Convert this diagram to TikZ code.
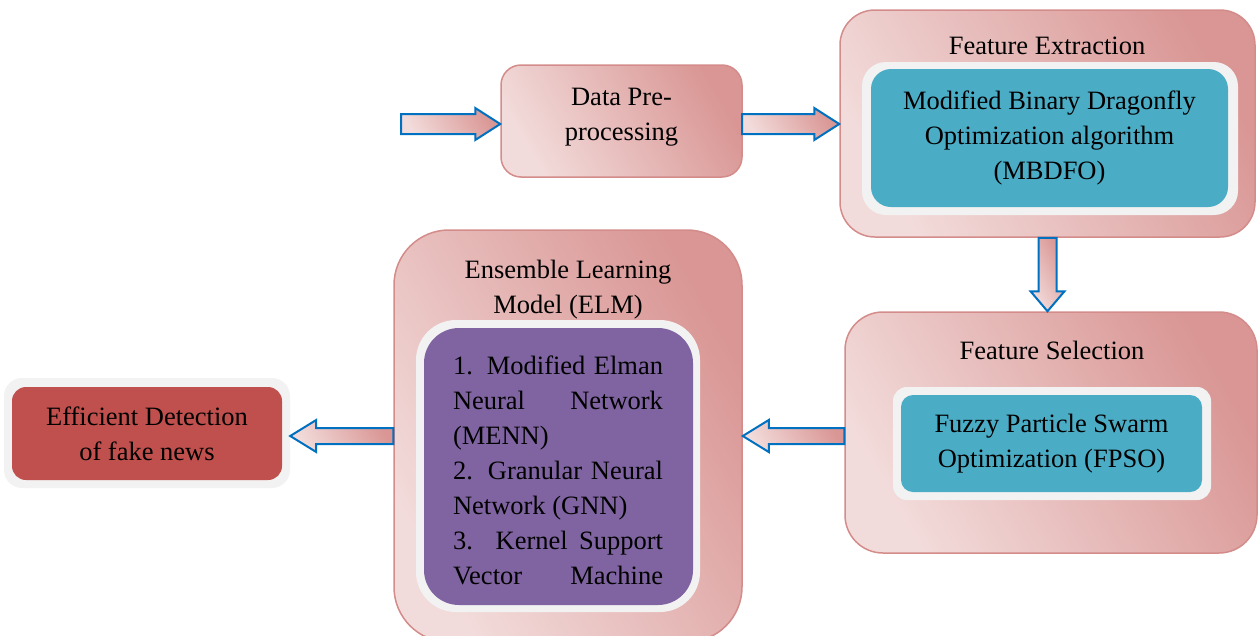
\documentclass[tikz,border=0pt]{standalone}
\usepackage{fontspec}
\setmainfont{Liberation Serif}
\usetikzlibrary{calc}
\definecolor{pinkL}{HTML}{F2DCDB}
\definecolor{pinkD}{HTML}{D99694}
\definecolor{pinkB}{HTML}{D38C8A}
\definecolor{tealC}{HTML}{4BACC6}
\definecolor{purpC}{HTML}{8064A2}
\definecolor{redC}{HTML}{C0504D}
\definecolor{frameC}{HTML}{F2F2F2}
\definecolor{arrB}{HTML}{0070C0}
\tikzset{
  txt/.style={font=\fontsize{26.5}{35}\selectfont, text=black, inner sep=0pt},
  pinkbox/.style={draw=pinkB, line width=1.5pt, left color=pinkL, right color=pinkD, shading angle=120, inner sep=0pt},
  framebox/.style={fill=frameC, inner sep=0pt},
  tealbox/.style={fill=tealC, inner sep=0pt},
  arrowbody/.style={draw=arrB, line width=2pt, line join=miter, left color=pinkL, right color=pinkD, shading angle=120},
}
\newcommand\fatarrow[5]{%
  \coordinate (fa-hb) at ($(#2)!#5!(#1)$);
  \path[arrowbody] ($(#1)!#3!90:(#2)$) -- ($(fa-hb)!#3!-90:(#1)$) -- ($(fa-hb)!#4!-90:(#1)$) -- (#2)
    -- ($(fa-hb)!#4!90:(#1)$) -- ($(fa-hb)!#3!90:(#1)$) -- ($(#1)!#3!-90:(#2)$) -- cycle;
}
\begin{document}
\begin{tikzpicture}[x=1pt,y=-1pt]
\useasboundingbox (0,0) rectangle (1258,635);
% Data pre-processing
\node[pinkbox, rounded corners=20pt, minimum width=241pt, minimum height=112pt] (data) at (621.5,121) {};
\node[txt, align=center] (datat) at (621.5,117) {Data Pre-\\processing};
% Feature extraction
\node[pinkbox, rounded corners=35pt, minimum width=415pt, minimum height=227pt] (fe) at (1047.5,123.5) {};
\node[txt] (fet) at (1047,46) {Feature Extraction};
\node[framebox, rounded corners=24pt, minimum width=376pt, minimum height=153pt] (few) at (1050,138.5) {};
\node[tealbox, rounded corners=20pt, minimum width=357pt, minimum height=138pt, txt, align=center] (fei) at (1049.5,138) {Modified Binary Dragonfly\\Optimization algorithm\\(MBDFO)};
% Feature selection
\node[pinkbox, rounded corners=38pt, minimum width=412pt, minimum height=241pt] (fs) at (1051,432.5) {};
\node[txt] (fst) at (1052,350) {Feature Selection};
\node[framebox, rounded corners=14pt, minimum width=318pt, minimum height=113pt] (fsw) at (1052,443.5) {};
\node[tealbox, rounded corners=12pt, minimum width=301pt, minimum height=97pt, txt, align=center] (fsi) at (1051.5,443.5) {Fuzzy Particle Swarm\\Optimization (FPSO)};
% Ensemble learning model
\node[pinkbox, rounded corners=55pt, minimum width=348pt, minimum height=412pt] (elm) at (568,436) {};
\node[txt, align=center] (elmt) at (568,290) {Ensemble Learning\\Model (ELM)};
\node[framebox, rounded corners=40pt, minimum width=284pt, minimum height=292pt] (elmw) at (558,466) {};
\node[fill=purpC, rounded corners=35pt, minimum width=269pt, minimum height=277pt, inner sep=0pt] (elmi) at (558.5,466.5) {};
\node[txt, align=left] (elmtx) at (558,470) {%
\makebox[210pt][s]{1. Modified Elman}\\
\makebox[210pt][s]{Neural Network}\\
\makebox[210pt][l]{(MENN)}\\
\makebox[210pt][s]{2. Granular Neural}\\
\makebox[210pt][l]{Network (GNN)}\\
\makebox[210pt][s]{3. Kernel Support}\\
\makebox[210pt][s]{Vector Machine}};
% Efficient detection
\node[framebox, rounded corners=18pt, minimum width=286pt, minimum height=110pt] (effw) at (147,433) {};
\node[fill=redC, rounded corners=14pt, minimum width=270pt, minimum height=93pt, inner sep=0pt, txt, align=center] (eff) at (147,433.5) {Efficient Detection\\of fake news};
% arrows
\coordinate (in) at (401,124);
\coordinate (inE) at (in -| data.west);
\fatarrow{in}{inE}{10pt}{16pt}{25pt}
\coordinate (a2s) at (742,124);
\coordinate (a2e) at (a2s -| fe.west);
\fatarrow{a2s}{a2e}{10pt}{16pt}{25pt}
\coordinate (a3s) at (fe.south);
\coordinate (a3e) at (a3s |- fs.north);
\fatarrow{a3s}{a3e}{9pt}{17pt}{20pt}
\coordinate (a4s) at (fs.west |- 0,436);
\coordinate (a4e) at (a4s -| elm.east);
\fatarrow{a4s}{a4e}{8pt}{16pt}{26pt}
\coordinate (a5s) at (elm.west);
\coordinate (a5e) at (a5s -| effw.east);
\fatarrow{a5s}{a5e}{8pt}{16pt}{26pt}
\end{tikzpicture}
\end{document}
